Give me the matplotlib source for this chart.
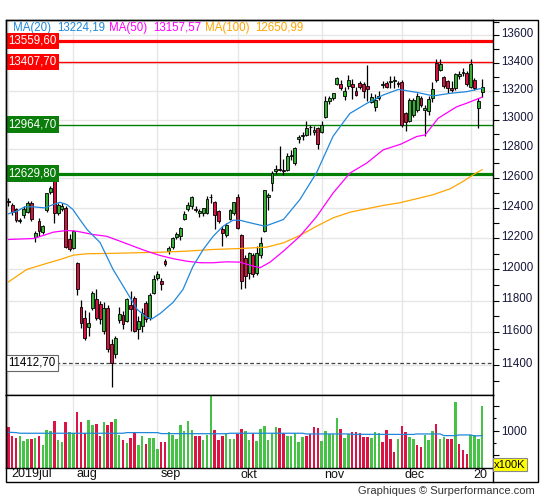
import matplotlib
matplotlib.use("Agg")
import matplotlib.pyplot as plt
import matplotlib.transforms as mtransforms
from matplotlib.patches import Rectangle
from matplotlib.lines import Line2D
from matplotlib.ticker import FixedLocator, NullFormatter, FixedFormatter

plt.rcParams['font.family'] = ['Liberation Sans', 'DejaVu Sans']

# ---------------- data ----------------
opens = [12445, 12420, 12395, 12312, 12350, 12375, 12433, 12205, 12310, 12240,
         12384, 12508, 12584, 12365, 12395, 12398, 12192,
         12138, 12038, 11760, 11692, 11633, 11754, 11811, 11780, 11609, 11754,
         11530, 11464, 11675, 11712, 11674, 11770, 11817, 11620, 11638, 11785,
         11692, 11849,
         11945, 11923, 12051, 12116, 12142, 12205, 12213, 12329, 12395, 12410,
         12395, 12363, 12363, 12363, 12475, 12437, 12378, 12262, 12224, 12328,
         12367,
         12473, 12224, 12073, 11972, 12094, 11977, 12088, 12246, 12473, 12567,
         12645, 12660, 12655, 12656, 12750, 12701, 12864, 12888, 12894, 12950,
         12911, 12940,
         12914, 13018, 13133, 13150, 13253, 13253, 13162, 13234, 13253, 13200,
         13258, 13251, 13234, 13122, 13087, 13150, 13241, 13258, 13262, 13270,
         13258,
         13266, 13044, 12993, 13033, 13065, 13150, 13066, 13060, 13150, 13398,
         13350, 13300, 13270, 13225, 13220, 13310, 13330, 13328,
         13230, 13279, 13080, 13195]
highs = [12468, 12432, 12402, 12335, 12410, 12445, 12448, 12245, 12330, 12290,
         12500, 12545, 12611, 12430, 12430, 12410, 12225,
         12257, 12045, 11802, 11740, 11729, 11860, 11870, 11800, 11790, 11770,
         11560, 11580, 11760, 11735, 11815, 11860, 11830, 11700, 11750, 11800,
         11850, 11965,
         11985, 11940, 12062, 12150, 12210, 12240, 12275, 12380, 12440, 12480,
         12410, 12395, 12402, 12480, 12495, 12443, 12385, 12278, 12300, 12390,
         12440,
         12494, 12228, 12094, 12110, 12105, 12150, 12205, 12520, 12499, 12644,
         12690, 12815, 12730, 12770, 12791, 12810, 12890, 12915, 12993, 12960,
         12955, 12952,
         12990, 13165, 13165, 13190, 13300, 13282, 13229, 13315, 13289, 13229,
         13270, 13262, 13386, 13185, 13180, 13200, 13270, 13270, 13305, 13310,
         13275,
         13279, 13056, 13150, 13150, 13185, 13165, 13100, 13165, 13265, 13427,
         13427, 13310, 13280, 13275, 13330, 13340, 13365, 13345,
         13427, 13290, 13150, 13289]
lows = [12410, 12356, 12305, 12300, 12330, 12365, 12315, 12175, 12215, 12225,
        12370, 12495, 12303, 12350, 12380, 12135, 12120,
        12127, 11838, 11630, 11555, 11575, 11740, 11680, 11650, 11590, 11480,
        11266, 11440, 11660, 11620, 11665, 11610, 11600, 11560, 11600, 11665,
        11680, 11840,
        11930, 11864, 12020, 12100, 12130, 12195, 12190, 12320, 12380, 12395,
        12370, 12340, 12345, 12360, 12432, 12262, 12300, 12150, 12210, 12320,
        12355,
        12263, 11870, 11880, 11935, 11950, 11960, 12070, 12240, 12389, 12511,
        12625, 12644, 12620, 12650, 12723, 12690, 12840, 12860, 12885, 12890,
        12890, 12797,
        12905, 13010, 13110, 13135, 13240, 13208, 13138, 13213, 13143, 13165,
        13215, 13150, 13132, 13115, 13060, 13135, 13220, 13222, 13220, 13225,
        13230,
        12952, 12920, 12985, 13020, 13050, 13090, 12888, 13030, 13120, 13266,
        13340, 13220, 13190, 13195, 13205, 13289, 13310, 13235,
        13222, 13208, 12945, 13157]
closes = [12438, 12372, 12318, 12322, 12395, 12430, 12325, 12233, 12248, 12279,
          12496, 12530, 12366, 12422, 12412, 12144, 12127,
          12246, 11872, 11658, 11567, 11658, 11849, 11692, 11681, 11754, 11495,
          11413, 11567, 11716, 11655, 11807, 11747, 11609, 11670, 11722, 11681,
          11838, 11938,
          11966, 11906, 12030, 12138, 12203, 12227, 12268, 12361, 12418, 12473,
          12385, 12378, 12400, 12460, 12470, 12350, 12312, 12235, 12290, 12385,
          12437,
          12268, 11923, 11955, 12101, 11966, 12101, 12170, 12517, 12488, 12633,
          12664, 12654, 12645, 12752, 12757, 12802, 12877, 12894, 12940, 12946,
          12929, 12833,
          12963, 13133, 13150, 13184, 13293, 13225, 13200, 13282, 13229, 13174,
          13229, 13200, 13218, 13157, 13138, 13162, 13253, 13229, 13270, 13278,
          13248,
          12965, 12986, 13140, 13140, 13165, 13103, 13078, 13145, 13216, 13282,
          13393, 13235, 13222, 13206, 13323, 13318, 13337, 13249,
          13395, 13219, 13133, 13229]

volumes = [1082, 898, 857, 891, 796, 837, 837, 857, 898, 714,
           1014, 1000, 1197, 810, 776, 1177, 973, 959, 1367, 1184,
           946, 1218, 1122, 1136, 898, 1177, 1122, 1177, 1238, 918,
           810, 755, 850, 946, 714, 898, 735, 850, 850, 633,
           769, 762, 973, 918, 837, 1116, 993, 1204, 1014, 891,
           891, 810, 918, 1760, 1014, 810, 898, 946, 837, 837,
           925, 1034, 986, 810, 946, 789, 1027, 1102, 810, 946,
           1068, 1048, 959, 891, 891, 959, 762, 864, 898, 939,
           1082, 1054, 796, 1000, 939, 932, 1259, 1041, 850, 932,
           973, 973, 959, 878, 864, 850, 973, 946, 776, 1014,
           830, 571, 830, 1095, 973, 878, 830, 714, 673, 905,
           816, 1000, 1143, 837, 878, 837, 837, 1571, 735, 605,
           524, 912, 912, 837, 1490]
vol_dir = ("rrrgggrgrg" "ggrggrggrr" "rggrrgrrgg" "rgrrggrggg" "rrgggggggr"
           "rgggrrrggg" "rrggrggggg" "grrgggggrr" "rrgggggrgg" "rrrrrgggrr"
           "rrgrrggrrg" "ggrggrrgrr" "rgggg")

vol_ma_idx = [0, 2, 3, 30, 31, 39, 40, 57, 58, 77, 78, 89, 90, 106, 107, 113, 114, 117, 118, 121, 122, 124]
vol_ma_val = [966, 959, 946, 946, 959, 959, 939, 936, 946, 946, 932, 932, 925, 922, 932, 932, 898, 898, 912, 912, 891, 898]

ma20_idx = [0, 2.2, 4.3, 6.4, 9.6, 11.7, 13.5, 15.3, 16.9, 18.7, 20.6, 24, 27.4, 31, 33.7, 36.3, 37.6,
            39.7, 43.1, 45.7, 48.3, 51, 53.6, 56.2, 58.8, 60.6, 64, 67.2, 72, 76.3, 80.7, 85, 89.4,
            93.8, 98.1, 102.1, 106.9, 111.2, 115.6, 120, 124]
ma20_val = [12361, 12378, 12407, 12407, 12400, 12422, 12437, 12422, 12389, 12323, 12257, 12172, 11998,
            11853, 11744, 11692, 11685, 11718, 11788, 11870, 12017, 12127, 12213, 12279, 12318, 12318,
            12297, 12279, 12323, 12455, 12637, 12885, 13043, 13113, 13172, 13212, 13191, 13166, 13184,
            13196, 13220]
ma50_idx = [0, 6.5, 9.1, 11.8, 15.3, 17.9, 22.2, 25.7, 29.2, 32.7, 36.2, 39.7, 43.2, 46.7, 50.2, 53.6,
            57.1, 60.6, 64.1, 65.9, 68.5, 72, 76.3, 80.7, 85, 89.4, 93.8, 98.1, 102.7, 106.9, 109.1,
            112.5, 117.3, 120, 124]
ma50_val = [12192, 12198, 12218, 12240, 12251, 12246, 12224, 12213, 12181, 12148, 12116, 12088, 12067,
            12051, 12041, 12041, 12047, 12045, 12019, 12009, 12045, 12116, 12213, 12343, 12499, 12633,
            12701, 12791, 12830, 12883, 12894, 13009, 13089, 13115, 13157]
ma100_idx = [0, 4.8, 9.1, 13.5, 17, 20.5, 25.7, 32.7, 39.7, 46.7, 53.6, 60.6, 67.6, 72, 76.3, 80.7, 85,
             89.4, 93.8, 98.1, 102.5, 106.9, 111.2, 115.6, 119.1, 121.7, 124]
ma100_val = [11918, 11998, 12030, 12062, 12090, 12099, 12101, 12105, 12109, 12116, 12127, 12133, 12142,
             12170, 12218, 12279, 12334, 12371, 12394, 12416, 12434, 12461, 12488, 12527, 12578, 12622,
             12656]

legend_texts = ['MA(20)', '13224,19', 'MA(50)', '13157,57', 'MA(100)', '12650,99']

levels = [13559.60, 13407.70, 12964.70, 12629.80, 11412.70]
level_labels = ['13559,60', '13407,70', '12964,70', '12629,80', '11412,70']

month_idx = [0, 17, 39, 60, 82, 103, 121]
month_labels = ['2019jul', 'aug', 'sep', 'okt', 'nov', 'dec', '20']

price_major = [11400, 11600, 11800, 12000, 12200, 12400, 12600, 12800, 13000, 13200, 13400, 13600]
price_minor = [11300, 11500, 11700, 11900, 12100, 12300, 12500, 12700, 12900, 13100, 13300, 13500, 13700]

# ---------------- styling ----------------
UP = '#35b035'
DN = '#d4143f'
VUP = '#46c246'
VDN = '#dc1446'
C20 = '#2088dc'
C50 = '#ff00ff'
C100 = '#ffa500'
GRID = '#e6e6e6'

W, H = 545, 500
fig = plt.figure(figsize=(W / 100, H / 100), dpi=100)


def fx(px):
    return px / W


def fy(py):
    return 1 - py / H


VB = 467.7  # bottom of volume panel (px)
ax = fig.add_axes([fx(6), fy(395), fx(493) - fx(6), fy(20) - fy(395)])
axv = fig.add_axes([fx(6), fy(VB), fx(493) - fx(6), fy(395) - fy(VB)], sharex=ax)

n = len(closes)
ax.set_yscale('log')
ax.set_ylim(11218, 13712)
ax.set_xlim(-0.63, 126.86)

# grids
for p in price_major:
    ax.axhline(p, color=GRID, lw=1, zorder=0)
for m in month_idx:
    ax.axvline(m, color=GRID, lw=1, zorder=0)
    axv.axvline(m, color=GRID, lw=1, zorder=0)

# level lines
lv_colors = ['#ff0000', '#ff0000', '#008000', '#008000', '#444444']
lv_widths = [2.3, 1.0, 1.0, 2.3, 0.9]
lv_styles = ['-', '-', '-', '-', (0, (3, 2))]
for v, c, w, s in zip(levels, lv_colors, lv_widths, lv_styles):
    ax.axhline(v, color=c, lw=w, ls=s, zorder=2)

# candles
for i in range(n):
    o, h, l, c = opens[i], highs[i], lows[i], closes[i]
    ax.vlines(i, l, h, color='black', lw=0.9, zorder=3)
    lo, hi = min(o, c), max(o, c)
    if hi - lo < 5:
        hi = lo + 5
    col = UP if c >= o else DN
    ax.add_patch(Rectangle((i - 0.38, lo), 0.76, hi - lo, facecolor=col,
                           edgecolor='black', lw=0.6, zorder=4))

# moving averages
ax.plot(ma100_idx, ma100_val, color=C100, lw=0.9, zorder=5)
ax.plot(ma50_idx, ma50_val, color=C50, lw=0.9, zorder=5)
ax.plot(ma20_idx, ma20_val, color=C20, lw=0.9, zorder=5)

# legend texts
leg_x = [13, 57, 109, 153, 205, 255]
leg_c = [C20, C20, C50, C50, C100, C100]
for s, xp, c in zip(legend_texts, leg_x, leg_c):
    ax.text((xp - 6) / 487, 0.980, s, color=c, fontsize=8.3, ha='left', va='center',
            transform=ax.transAxes, zorder=6)

# level labels
blend = mtransforms.blended_transform_factory(ax.transAxes, ax.transData)
lab_fc = ['#ff0000', '#ff0000', '#0b7d0b', '#0b7d0b', 'white']
lab_tc = ['white', 'white', 'white', 'white', 'black']
lab_ec = ['none', 'none', 'none', 'none', '#666666']
for v, s, fc, tc, ec in zip(levels, level_labels, lab_fc, lab_tc, lab_ec):
    ax.text(0.0045, v, s, transform=blend, color=tc, fontsize=8.3, ha='left', va='center',
            zorder=7, bbox=dict(boxstyle='square,pad=0.2', fc=fc, ec=ec, lw=0.8))

# price axis
ax.yaxis.tick_right()
ax.yaxis.set_major_locator(FixedLocator(price_major))
ax.yaxis.set_major_formatter(FixedFormatter([str(p) for p in price_major]))
ax.yaxis.set_minor_locator(FixedLocator(price_minor))
ax.yaxis.set_minor_formatter(NullFormatter())
ax.tick_params(axis='y', which='both', direction='out', length=4, width=0.8, pad=2,
               labelsize=8.3, labelcolor='#16163a', right=True, left=False)
ax.tick_params(axis='x', which='both', bottom=False, top=False, labelbottom=False)
offset = mtransforms.ScaledTranslation(0, 2.0 / 72, fig.dpi_scale_trans)
for lab in ax.yaxis.get_majorticklabels():
    lab.set_transform(lab.get_transform() + offset)
for sp in ax.spines.values():
    sp.set_color('black')
    sp.set_linewidth(1)

# volume panel
vcols = [VUP if d == 'g' else VDN for d in vol_dir]
axv.bar(range(n), volumes, width=0.66, color=vcols, zorder=2)
axv.plot(vol_ma_idx, vol_ma_val, color=C20, lw=0.9, zorder=3)
axv.set_ylim(248, 1721)
axv.yaxis.tick_right()
axv.yaxis.set_major_locator(FixedLocator([500, 1000, 1500]))
axv.yaxis.set_major_formatter(FixedFormatter(['', '1000', '']))
axv.yaxis.set_minor_locator(FixedLocator([750, 1250]))
axv.yaxis.set_minor_formatter(NullFormatter())
axv.tick_params(axis='y', which='major', direction='out', length=4, width=0.8, pad=2,
                labelsize=8.3, labelcolor='#16163a')
axv.tick_params(axis='y', which='minor', direction='out', length=2.5, width=0.8)
axv.tick_params(axis='x', which='both', bottom=False, top=False, labelbottom=False)
for sp in axv.spines.values():
    sp.set_color('black')
    sp.set_linewidth(1)

# month labels
for m, s in zip(month_idx, month_labels):
    xpix = ax.transData.transform((m, 12000))[0]
    fig.text((xpix + 3) / W, fy(474.5), s, fontsize=9, ha='left', va='center',
             color='#111111')

# outer frame and extras
fig.add_artist(Rectangle((fx(6), fy(482)), fx(538) - fx(6), fy(20) - fy(482),
                         transform=fig.transFigure, fill=False, ec='black', lw=1))
fig.add_artist(Line2D([fx(493), fx(493)], [fy(VB), fy(482)], transform=fig.transFigure,
                      color='black', lw=1))
fig.text(fx(510), fy(464.7), 'x100K', ha='center', va='center', fontsize=8, color='black',
         bbox=dict(boxstyle='square,pad=0.15', fc='#ffff00', ec='#888888', lw=0.8))
fig.text(fx(535), fy(491.5), 'Graphiques \u00a9 Surperformance.com', ha='right', va='center',
         fontsize=8, color='#333333')

fig.savefig('out.png', dpi=100)
